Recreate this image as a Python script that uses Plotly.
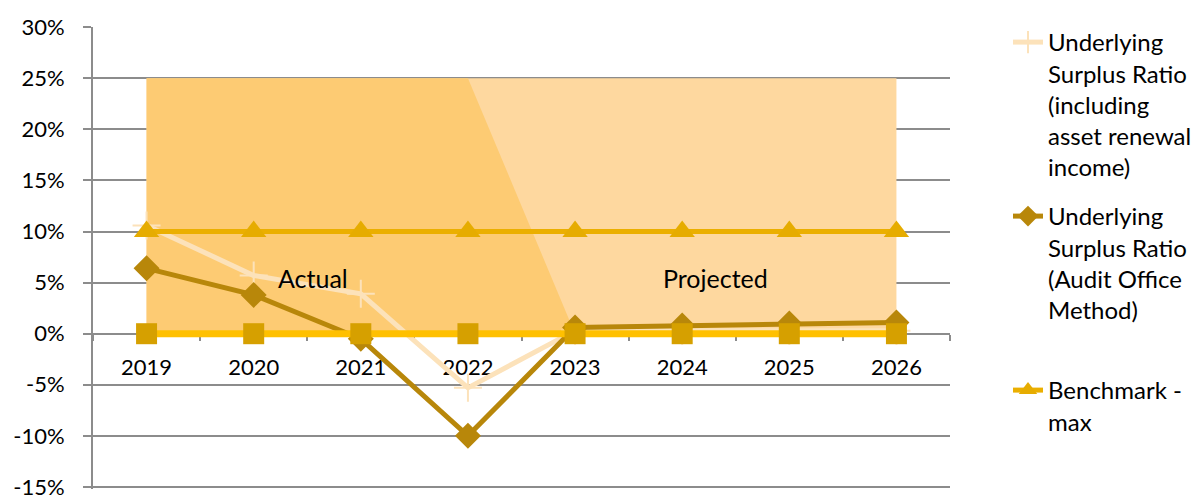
import plotly.graph_objects as go

years = ["2019", "2020", "2021", "2022", "2023", "2024", "2025", "2026"]
actual_area = [25, 25, 25, 25, 0, 0, 0, 0]
projected_area = [25, 25, 25, 25, 25, 25, 25, 25]
incl_asset = [10.6, 5.7, 3.9, -5.3, 0.3, 0.3, 0.3, 0.3]
audit_office = [6.4, 3.8, -0.5, -10.0, 0.6, 0.8, 1.0, 1.1]
bench_max = [10, 10, 10, 10, 10, 10, 10, 10]
bench_min = [0, 0, 0, 0, 0, 0, 0, 0]
y_ticks = [-15, -10, -5, 0, 5, 10, 15, 20, 25, 30]
y_tick_labels = ["-15%", "-10%", "-5%", "0%", "5%", "10%", "15%", "20%", "25%", "30%"]

FONT = "Lato"
PW = 857.0
PH = 462.0
T = 27
Y_LO, Y_HI = -15.2, 30.02

def ly(px):
    return (T + PH - px) / PH

def lx(px):
    return (px - 93) / PW

fig = go.Figure()

fig.add_trace(go.Scatter(x=years, y=projected_area, mode="lines", fill="tozeroy",
                         fillcolor="#FED89F", line=dict(width=0, color="#FED89F"),
                         showlegend=False, hoverinfo="skip"))
fig.add_trace(go.Scatter(x=years, y=actual_area, mode="lines", fill="tozeroy",
                         fillcolor="#FDCB73", line=dict(width=0, color="#FDCB73"),
                         showlegend=False, hoverinfo="skip"))

fig.add_trace(go.Scatter(
    x=years, y=incl_asset, mode="lines+markers",
    name="Underlying<br>Surplus Ratio<br>(including<br>asset renewal<br>income)",
    line=dict(color="#FCE2BA", width=5),
    marker=dict(symbol="cross-thin", size=20, line=dict(color="#FCE2BA", width=2), color="#FCE2BA"),
    legend="legend"))
fig.add_trace(go.Scatter(
    x=years, y=audit_office, mode="lines+markers",
    name="Underlying<br>Surplus Ratio<br>(Audit Office<br>Method)",
    line=dict(color="#B8870A", width=5),
    marker=dict(symbol="diamond", size=20, color="#B8870A"),
    legend="legend2"))
fig.add_trace(go.Scatter(
    x=years, y=bench_max, mode="lines+markers",
    name="Benchmark -<br>max",
    line=dict(color="#EBAF00", width=5),
    marker=dict(symbol="triangle-up", size=22, color="#E6AC00"),
    legend="legend3"))
fig.add_trace(go.Scatter(
    x=years, y=bench_min, mode="lines+markers",
    name="Benchmark - min",
    line=dict(color="#FFC000", width=7),
    marker=dict(symbol="square", size=21, color="#D6A000"),
    showlegend=False))

fig.add_annotation(x=1.55, y=5.5, text="Actual", showarrow=False,
                   font=dict(family=FONT, size=25, color="black"))
fig.add_annotation(x=5.31, y=5.5, text="Projected", showarrow=False,
                   font=dict(family=FONT, size=25, color="black"))

legend_common = dict(font=dict(family=FONT, size=24, color="black"), valign="top",
                     bgcolor="rgba(0,0,0,0)", xanchor="left", yanchor="top",
                     x=lx(1008))

fig.update_layout(
    width=1200, height=495,
    margin=dict(l=93, r=250, t=T, b=495 - T - int(PH), autoexpand=False),
    plot_bgcolor="white", paper_bgcolor="white",
    font=dict(family=FONT, size=22, color="black"),
    legend=dict(**legend_common, y=ly(20)),
    legend2=dict(**legend_common, y=ly(194)),
    legend3=dict(**legend_common, y=ly(368)),
    xaxis=dict(type="category", range=[-0.5, 7.5], anchor="free",
               position=(0 - Y_LO) / (Y_HI - Y_LO),
               showline=True, linecolor="#8C8C8C", linewidth=2, layer="below traces",
               ticks="outside", tickson="boundaries", ticklen=6, tickcolor="#8C8C8C", tickwidth=2,
               showgrid=False, tickfont=dict(family=FONT, size=22, color="black"),
               ticklabelstandoff=14, automargin=False),
    yaxis=dict(range=[Y_LO, Y_HI], tickvals=y_ticks, ticktext=y_tick_labels,
               showgrid=True, gridcolor="#8C8C8C", gridwidth=2, zeroline=False,
               showline=True, linecolor="#8C8C8C", linewidth=2,
               ticks="outside", ticklen=8, tickcolor="#8C8C8C", tickwidth=2,
               tickfont=dict(family=FONT, size=22, color="black"), ticklabelstandoff=14,
               ticklabeloverflow="allow", automargin=False),
)

fig.write_html("out.html", config={"displayModeBar": False},
               post_script="document.body.style.margin='0';document.body.style.overflow='hidden';")
